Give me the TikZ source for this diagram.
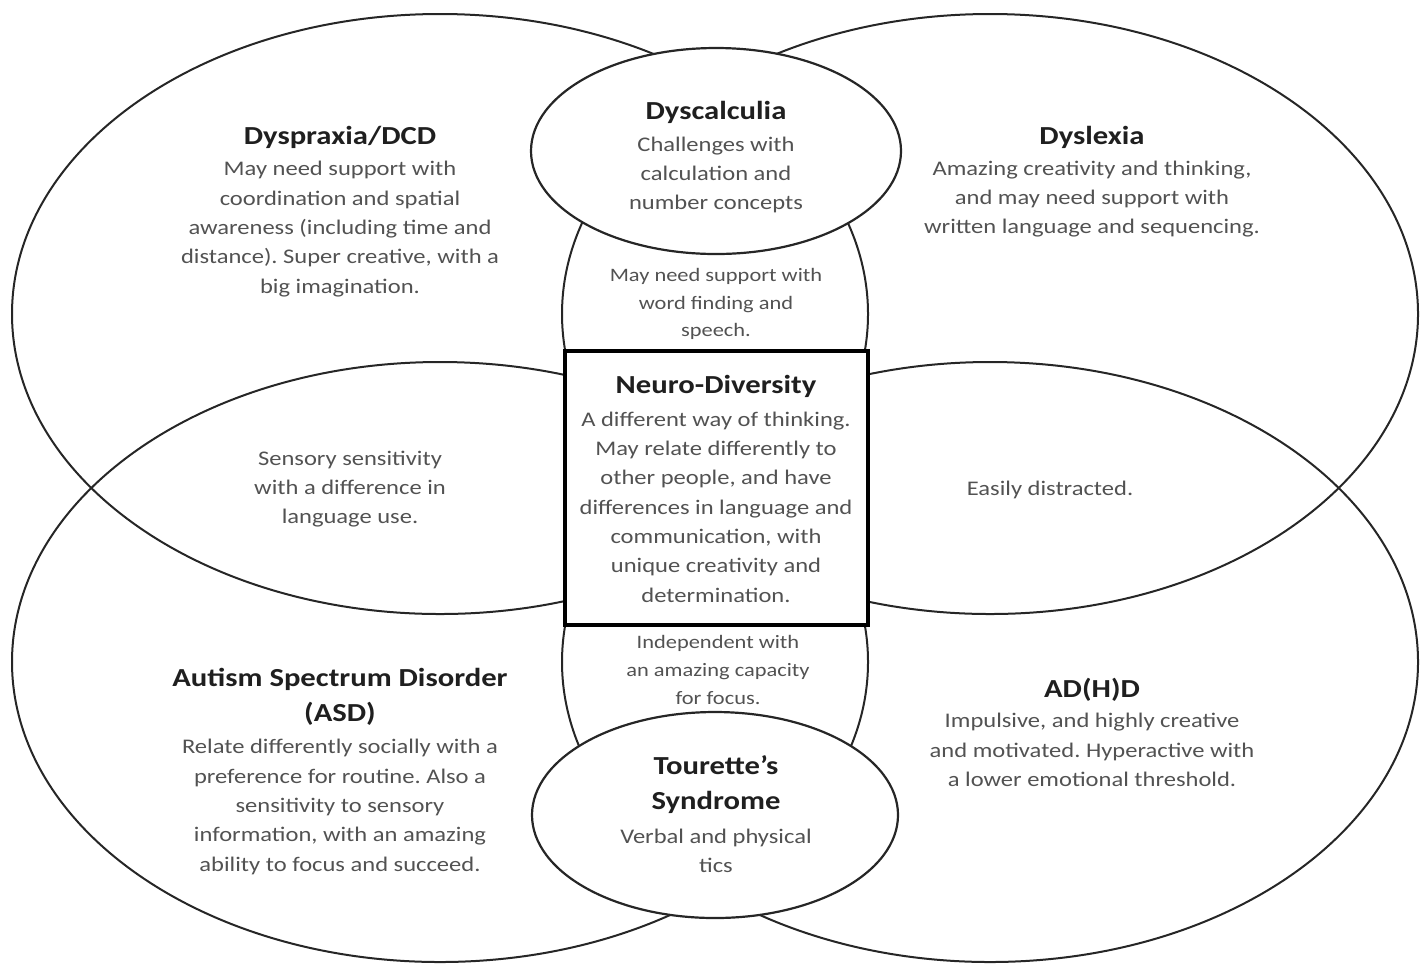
\documentclass[tikz,border=0pt]{standalone}
\usepackage{fontspec}
\setmainfont[FakeStretch=1.18]{Carlito}
\frenchspacing
\begin{document}
\begin{tikzpicture}[x=0.5pt,y=-0.5pt]
\tikzset{
  ring/.style={line width=1pt, draw=black!85},
  smallring/.style={line width=1.1pt, draw=black!85, fill=white},
  core/.style={line width=2.3pt, draw=black, fill=white},
  ttl/.style={font=\bfseries\fontsize{13}{17.5}\selectfont, text=black!88, align=center, inner sep=0pt},
  body/.style={font=\fontsize{10.4}{14.65}\selectfont, text=black!68, align=center, inner sep=0pt},
  note/.style={font=\fontsize{9.5}{13.9}\selectfont, text=black!68, align=center, inner sep=0pt}
}
\useasboundingbox (0,0) rectangle (1427,966);
% big ellipses
\draw[ring] (440,314) ellipse [x radius=428, y radius=300];
\draw[ring] (990,314) ellipse [x radius=428, y radius=300];
\draw[ring] (440,662) ellipse [x radius=428, y radius=300];
\draw[ring] (990,662) ellipse [x radius=428, y radius=300];
% small ellipses and centre box
\draw[smallring] (716,151) ellipse [x radius=185, y radius=103];
\draw[smallring] (715,815) ellipse [x radius=183, y radius=103];
\draw[core] (565,351) rectangle (868,625);
% texts
\node[ttl]  (dyspT) at (340,137) {Dyspraxia/DCD};
\node[body] (dyspB) at (340,229) {May need support with\\coordination and spatial\\awareness (including time and\\distance). Super creative, with a\\big imagination.};
\node[ttl]  (calcT) at (716,112) {Dyscalculia};
\node[body] (calcB) at (716,175) {Challenges with\\calculation and\\number concepts};
\node[ttl]  (dyslT) at (1092,137) {Dyslexia};
\node[body] (dyslB) at (1092,199) {Amazing creativity and thinking,\\and may need support with\\written language and sequencing.};
\node[note] (topN)  at (716,304) {May need support with\\word finding and\\speech.};
\node[body] (leftN) at (350,489) {Sensory sensitivity\\with a difference in\\language use.};
\node[ttl]  (ndT)   at (716,386) {Neuro-Diversity};
\node[body] (ndB)   at (716,507) {A different way of thinking.\\May relate differently to\\other people, and have\\differences in language and\\communication, with\\unique creativity and\\determination.};
\node[body] (rightN) at (1050,490) {Easily distracted.};
\node[note] (botN)  at (718,670) {Independent with\\an amazing capacity\\for focus.};
\node[ttl]  (asdT)  at (340,697) {Autism Spectrum Disorder\\(ASD)};
\node[body] (asdB)  at (340,807) {Relate differently socially with a\\preference for routine. Also a\\sensitivity to sensory\\information, with an amazing\\ability to focus and succeed.};
\node[ttl]  (adhdT) at (1092,690) {AD(H)D};
\node[body] (adhdB) at (1092,750) {Impulsive, and highly creative\\and motivated. Hyperactive with\\a lower emotional threshold.};
\node[ttl]  (tourT) at (716,785) {Tourette’s\\Syndrome};
\node[body] (tourB) at (716,851) {Verbal and physical\\tics};
\end{tikzpicture}
\end{document}
